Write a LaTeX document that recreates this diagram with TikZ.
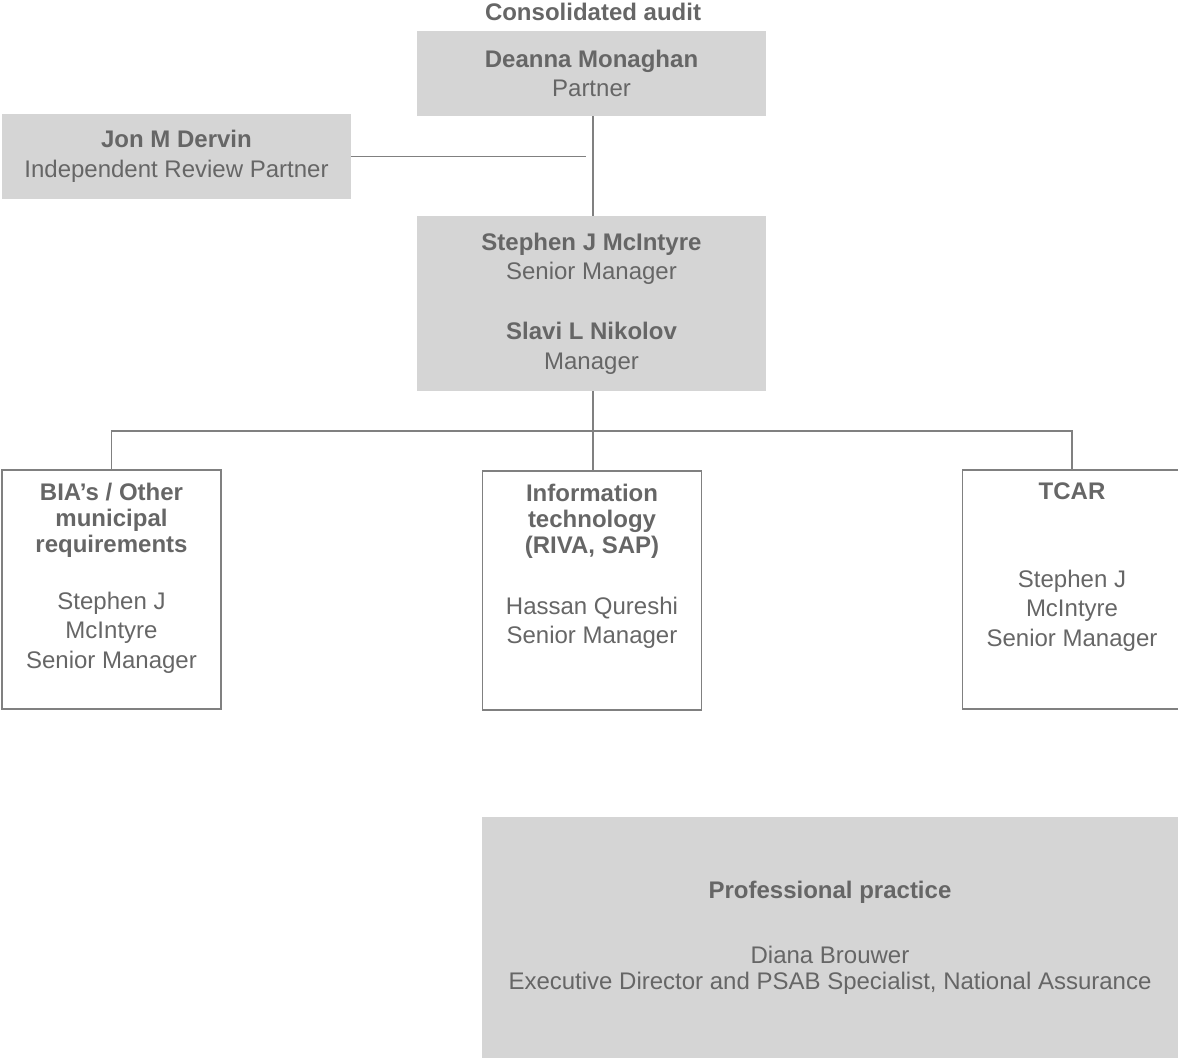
\documentclass[tikz,border=0pt]{standalone}
\usepackage{fontspec}
\setmainfont{Liberation Sans}
\usetikzlibrary{positioning}
\definecolor{boxgray}{HTML}{D5D5D5}
\definecolor{txtgray}{HTML}{666666}
\definecolor{linegray}{HTML}{808080}

\begin{document}
\begin{tikzpicture} [x=1pt, y=-1pt,
    every node/.style={text=txtgray, font=\fontsize{24}{29.5}\selectfont, align=center, inner sep=0pt},
    graybox/.style={fill=boxgray, minimum width=349pt, minimum height=85pt},
    linebox/.style={draw=linegray, line width=1.1pt, minimum width=219pt, minimum height=239pt},
    conn/.style={draw=linegray, line width=1.1pt},]
\useasboundingbox (0,0) rectangle (1178,1061);
\clip (0,0) rectangle (1178,1061);

\node[font=\fontsize{24}{29.5}\selectfont\bfseries] (title) at (593,12) {Consolidated audit};
\node[graybox] (partner) at (591.5,73.5) {\textbf{Deanna Monaghan}\\Partner};
\node[graybox] (review) at (176.5,156.5) {\textbf{Jon M Dervin}\\Independent Review Partner};
\node[graybox, minimum height=175pt] (managers) at (591.5,303.5)
    {\textbf{Stephen J McIntyre}\\Senior Manager\\[30.5pt]\textbf{Slavi L Nikolov}\\Manager};

% teams
\node[linebox] (bia) at (111.5,589.5) {};
\node[linebox] (it) at (592,590.5) {};
\node[linebox] (tcar) at (1072,589.5) {};
\node[below=13pt of bia.north] (biatext)
    {\textbf{BIA’s / Other}\\[-3.5pt]\textbf{municipal}\\[-3.5pt]\textbf{requirements}\\[27.5pt]Stephen J\\McIntyre\\Senior Manager};
\node[below=13pt of it.north] (ittext)
    {\textbf{Information}\\[-3.5pt]\textbf{technology}\\[-3.5pt]\textbf{(RIVA, SAP)}\\[31.5pt]Hassan Qureshi\\Senior Manager};
\node[below=13pt of tcar.north] (tcartext)
    {\textbf{TCAR}\\[58.5pt]Stephen J\\McIntyre\\Senior Manager};

\node[graybox, minimum width=696pt, minimum height=241pt] (practice) at (830,937.5)
    {\textbf{Professional practice}\\[35.5pt]Diana Brouwer\\[-3.5pt]Executive Director and PSAB Specialist, National Assurance};

% connectors
\coordinate (joint) at (586,157);
\coordinate (bus) at (593,431);
\draw[conn] (partner.south -| bus) -- (managers.north -| bus);
\draw[conn] (review.east) -- (review.east -| joint);
\draw[conn] (managers.south -| bus) -- (it.north -| bus);
\draw[conn] (bia.north) -- (bia.north |- bus) -- (tcar.north |- bus) -- (tcar.north);

\end{tikzpicture}
\end{document}
